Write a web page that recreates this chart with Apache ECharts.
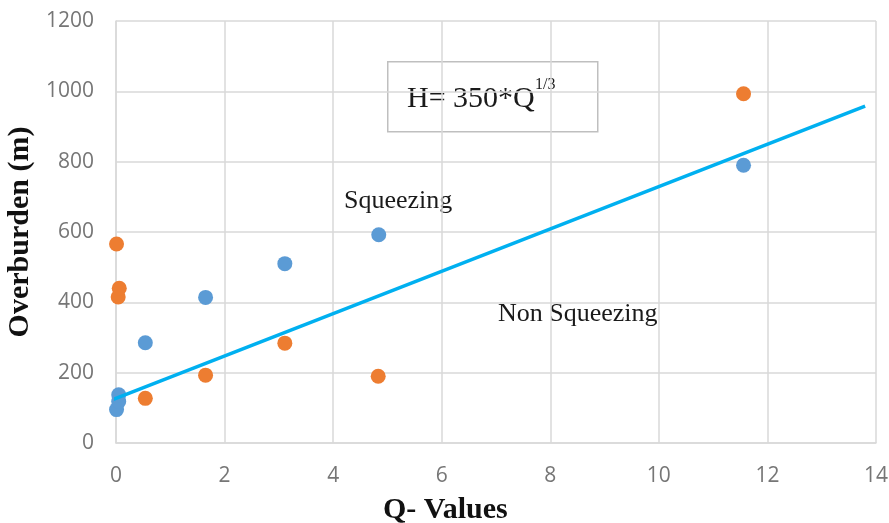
<!DOCTYPE html>
<html style="height: 100%">
<head>
    <meta charset="UTF-8">
    <title>Overburden vs Q-Values</title>
    <script src="https://cdn.jsdelivr.net/npm/echarts@6.0.0/dist/echarts.min.js"></script>
    <style>
        #main { width: 889px; height: 523px; }
    </style>
</head>
<body style="margin: 0; padding: 0; background: #fff;">
    <div id="main"></div>
    <script>
        // 数据
        var blueQ = [0.01, 0.05, 0.05, 0.54, 1.65, 3.11, 4.84, 11.56];
        var blueH = [95, 118, 137, 285, 414, 510, 592, 790];
        var orangeQ = [0.01, 0.04, 0.06, 0.54, 1.65, 3.11, 4.83, 11.56];
        var orangeH = [566, 415, 440, 127, 193, 284, 190, 993];
        var lineQ = [-0.15, 13.8];
        var lineH = [118, 958];

        function pairs(xs, ys) {
            return xs.map(function (x, i) { return [x, ys[i]]; });
        }

        var serif = '"Liberation Serif", "Times New Roman", serif';
        var gridColor = '#d9d9d9';
        var tickFont = { color: '#767676', fontSize: 21, fontFamily: '"Open Sans", sans-serif' };

        var option = {
            backgroundColor: '#ffffff',
            animation: false,
            grid: { left: 116, right: 13, top: 21, bottom: 80, outerBoundsMode: 'none', containLabel: false },
            xAxis: {
                type: 'value',
                min: 0, max: 14, interval: 2,
                axisLine: { lineStyle: { color: gridColor, width: 1.5 } },
                axisTick: { show: false },
                axisLabel: Object.assign({ margin: 23 }, tickFont),
                splitLine: { show: true, lineStyle: { color: gridColor, width: 1.5 } }
            },
            yAxis: {
                type: 'value',
                min: 0, max: 1200, interval: 200,
                name: 'Overburden (m)',
                nameLocation: 'middle',
                nameGap: 76,
                nameTextStyle: { fontFamily: serif, fontWeight: 'bold', fontSize: 30, color: '#111' },
                axisLine: { show: true, lineStyle: { color: gridColor, width: 1.5 } },
                axisTick: { show: false },
                axisLabel: Object.assign({ margin: 22, formatter: function (v) { return String(v); } }, tickFont),
                splitLine: { show: true, lineStyle: { color: gridColor, width: 1.5 } }
            },
            series: [
                {
                    type: 'scatter',
                    data: pairs(blueQ, blueH),
                    symbolSize: 15,
                    itemStyle: { color: '#5b9bd5', opacity: 1 }
                },
                {
                    type: 'scatter',
                    data: pairs(orangeQ, orangeH),
                    symbolSize: 15,
                    itemStyle: { color: '#ed7d31', opacity: 1 }
                },
                {
                    type: 'line',
                    data: pairs(lineQ, lineH),
                    showSymbol: false,
                    clip: false,
                    lineStyle: { color: '#00b0f0', width: 3.5 },
                    z: 5
                }
            ],
            graphic: [
                {
                    type: 'rect',
                    left: 387, top: 61,
                    shape: { width: 210, height: 70 },
                    style: { fill: '#ffffff', stroke: '#bfbfbf', lineWidth: 1.5 }
                },
                {
                    type: 'text',
                    left: 407, top: 84,
                    style: { text: 'H= 350*Q', font: '30px ' + serif, fill: '#1a1a1a' }
                },
                {
                    type: 'text',
                    left: 535, top: 77,
                    style: { text: '1/3', font: '16px ' + serif, fill: '#1a1a1a' }
                },
                {
                    type: 'text',
                    left: 344, top: 188,
                    style: { text: 'Squeezing', font: '26px ' + serif, fill: '#1a1a1a' }
                },
                {
                    type: 'text',
                    left: 498, top: 301,
                    style: { text: 'Non Squeezing', font: '26px ' + serif, fill: '#1a1a1a' }
                },
                {
                    type: 'text',
                    left: 383, top: 495,
                    style: { text: 'Q- Values', font: 'bold 30px ' + serif, fill: '#111' }
                }
            ]
        };

        var chart = echarts.init(document.getElementById('main'));
        chart.setOption(option);
    </script>
</body>
</html>
